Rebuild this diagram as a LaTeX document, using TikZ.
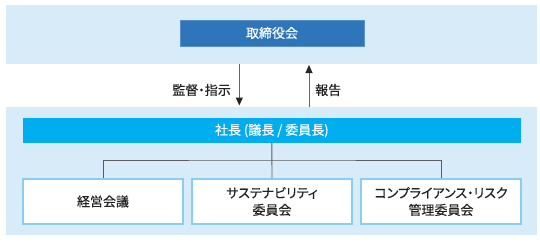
\documentclass[tikz,border=0pt]{standalone}
\usepackage{fontspec}
\setmainfont{Noto Sans CJK JP}[FakeBold=0.4,RawFeature=+palt]
\usetikzlibrary{arrows.meta}
\definecolor{bandblue}{HTML}{D7ECF8}
\definecolor{boardblue}{HTML}{2E75BA}
\definecolor{barblue}{HTML}{00AEEF}
\definecolor{boxline}{HTML}{86CFF1}
\definecolor{txtgray}{HTML}{222222}
\definecolor{linegray}{HTML}{666666}
\tikzset{
  band/.style={fill=bandblue, draw=none},
  board/.style={fill=boardblue, draw=boardblue!80!white, line width=0.6bp, text=white, font=\fontsize{13bp}{15bp}\selectfont},
  bar/.style={fill=barblue, draw=none, text=white, font=\fontsize{13bp}{15bp}\selectfont},
  unit/.style={fill=white, draw=boxline, line width=1.1bp, text=txtgray, align=center, font=\fontsize{13bp}{17bp}\selectfont},
  lbl/.style={text=txtgray, font=\fontsize{13bp}{15bp}\selectfont},
  flow/.style={draw=linegray, line width=1bp, -{Triangle[length=8bp,width=7bp,fill=black!85,color=black!85]}},
  tree/.style={draw=linegray!90!black, line width=0.9bp}
}
\begin{document}
\begin{tikzpicture}[x=1bp,y=-1bp]
\useasboundingbox (0,0) rectangle (540,241);
% bands
\path[band] (5.7,5) rectangle (537,64);
\path[band] (5.7,107) rectangle (537,235);
% board
\node[board, minimum width=184bp, minimum height=26bp, inner sep=0pt] (board) at (272,33) {取締役会};
% president bar
\node[bar, minimum width=498.3bp, minimum height=25bp, inner sep=0pt] (pres) at (271.85,130.5) {社長 (議長 / 委員長)};
% units
\node[unit, minimum width=160bp, minimum height=45bp, inner sep=0pt] (u1) at (103,201.5) {経営会議};
\node[unit, minimum width=160bp, minimum height=45bp, inner sep=0pt] (u2) at (272,201.5) {サステナビリティ\\委員会};
\node[unit, minimum width=160bp, minimum height=45bp, inner sep=0pt] (u3) at (441,201.5) {コンプライアンス・リスク\\管理委員会};
% arrows between bands
\coordinate (dtop) at (239.3,64);
\coordinate (dbot) at (239.3,105.5);
\coordinate (utop) at (309,65);
\coordinate (ubot) at (309,107);
\draw[flow] (dtop) -- (dbot);
\draw[flow] (ubot) -- (utop);
\node[lbl, anchor=east, inner sep=0pt] (l1) at (231,90) {監督・指示};
\node[lbl, anchor=west, inner sep=0pt] (l2) at (315,90) {報告};
% tree
\coordinate (hub) at (272,160);
\draw[tree] (pres.south) -- (u2.north);
\draw[tree] (u1.north) |- (hub) -| (u3.north);
\end{tikzpicture}
\end{document}
